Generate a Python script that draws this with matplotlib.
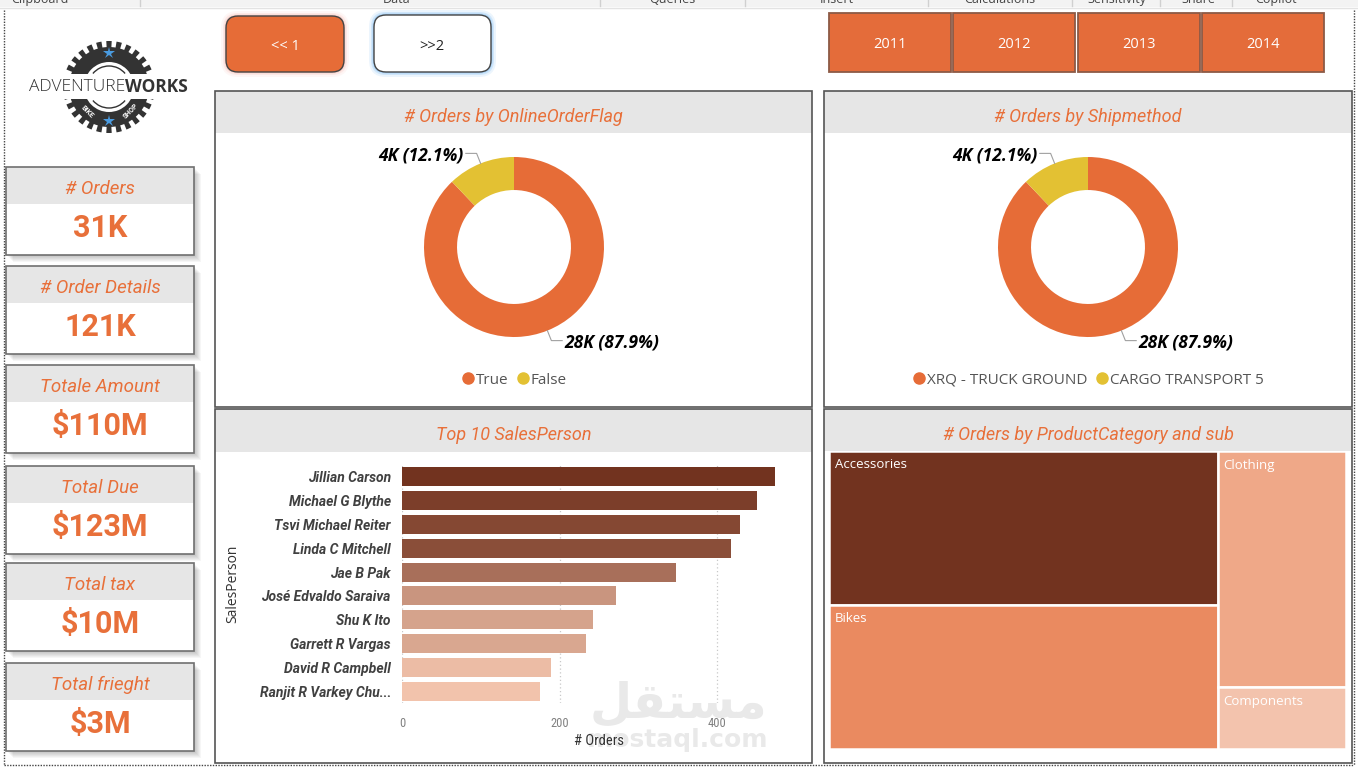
import numpy as np
import matplotlib
matplotlib.use('Agg')
import matplotlib.pyplot as plt
from matplotlib import font_manager as fm
from matplotlib.patches import Rectangle, FancyBboxPatch, Wedge, Arc
from matplotlib.lines import Line2D
from matplotlib.colors import LinearSegmentedColormap, Normalize

# ---------------- data ----------------
kpi_titles = ['# Orders', '# Order Details', 'Totale Amount', 'Total Due', 'Total tax', 'Total frieght']
kpi_values = ['31K', '121K', '$110M', '$123M', '$10M', '$3M']
nav_buttons = ['<< 1', '>>2']
years = ['2011', '2012', '2013', '2014']
online_flags = ['True', 'False']
online_orders = [27659, 3806]
ship_methods = ['XRQ - TRUCK GROUND', 'CARGO TRANSPORT 5']
ship_orders = [27659, 3806]
salespersons = ['Jillian Carson', 'Michael G Blythe', 'Tsvi Michael Reiter', 'Linda C Mitchell',
                'Jae B Pak', 'José Edvaldo Saraiva', 'Shu K Ito', 'Garrett R Vargas',
                'David R Campbell', 'Ranjit R Varkey Chudukatil']
sp_orders = [473, 450, 429, 418, 348, 271, 242, 234, 189, 175]
sp_ticks = [0, 200, 400]
categories = ['Accessories', 'Bikes', 'Clothing', 'Components']
cat_orders = [46700, 43700, 23700, 6200]
cat_groups = [[0, 1], [2, 3]]
ribbon_labels = ['Clipboard', 'Data', 'Queries', 'Insert', 'Calculations', 'Sensitivity', 'Share', 'Copilot']

# ---------------- fonts ----------------
avail = {f.name for f in fm.fontManager.ttflist}
def pick(*names):
    for n in names:
        if n in avail:
            return n
    return 'DejaVu Sans'
DIN = pick('Roboto', 'Lato', 'DejaVu Sans')
DINC = pick('Roboto Condensed', 'Roboto', 'DejaVu Sans')
UI = pick('Open Sans', 'Noto Sans', 'DejaVu Sans')
plt.rcParams['font.family'] = [UI, 'DejaVu Sans']

# ---------------- colours ----------------
ORANGE = '#E66C37'
TXT_OR = '#E8703A'
YELLOW = '#E3C133'
HEADER = '#E6E6E6'
BORDER = '#555555'

W, H = 1358, 769
fig = plt.figure(figsize=(W / 100, H / 100), dpi=100)
fig.patch.set_facecolor('white')

bg = fig.add_axes([0, 0, 1, 1], zorder=0)
bg.set_xlim(0, W)
bg.set_ylim(H, 0)
bg.axis('off')

def px_axes(x0, y0, x1, y1, z=2):
    ax = fig.add_axes([x0 / W, 1 - y1 / H, (x1 - x0) / W, (y1 - y0) / H], zorder=z)
    ax.patch.set_alpha(0)
    return ax

# ---------------- ribbon remnants ----------------
bg.add_patch(Rectangle((0, 0), W, 7, facecolor='#F3F3F3', edgecolor='none'))
bg.plot([0, W], [7.5, 7.5], color='#E3E3E3', lw=1)
rib_x = [40, 397, 672, 837, 1000, 1117, 1198, 1276]
for lab, x in zip(ribbon_labels, rib_x):
    bg.text(x, 3, lab, ha='center', va='baseline', fontsize=9, color='#444444')
for x in [140, 600, 745, 928, 1072, 1160, 1232]:
    bg.plot([x, x], [0, 6], color='#D0D0D0', lw=1)

# ---------------- page dotted border ----------------
dot = dict(color='#444444', lw=1.0, linestyle=(0, (1, 1)))
bg.plot([4, 4], [10, 765], **dot)
bg.plot([4, 1354], [765, 765], **dot)
bg.plot([1354, 1354], [10, 765], **dot)

# ---------------- logo ----------------
cx, cy = 109, 87
def gear_half(ymin, ymax):
    clip = Rectangle((cx - 60, ymin), 120, ymax - ymin, transform=bg.transData)
    parts = [Wedge((cx, cy), 40, 0, 360, width=15, facecolor='#333333', edgecolor='none')]
    n = 28
    for k in range(n):
        a = 360 / n * k
        parts.append(Wedge((cx, cy), 46, a - 3.4, a + 3.4, width=8, facecolor='#333333', edgecolor='none'))
    for p in parts:
        bg.add_patch(p)
        p.set_clip_path(clip)
gear_half(cy - 60, cy - 13)
gear_half(cy + 12, cy + 60)
bg.add_patch(Arc((cx, cy), 42, 42, theta1=220, theta2=320, color='#333333', lw=1))
bg.add_patch(Arc((cx, cy), 42, 42, theta1=40, theta2=140, color='#333333', lw=1))
bg.plot([cx], [cy - 34], marker='*', markersize=9, color='#4A9BE0', markeredgewidth=0)
bg.plot([cx], [cy + 34], marker='*', markersize=9, color='#4A9BE0', markeredgewidth=0)
for txt, ang, rot in [('BIKE', 132, -45), ('SHOP', 48, 45)]:
    a = np.deg2rad(ang)
    bg.text(cx + 33 * np.cos(a), cy + 33 * np.sin(a), txt, ha='center', va='center', fontsize=5,
            fontweight='bold', color='white', rotation=rot, family=DIN)
bg.text(125, 87, 'ADVENTURE', ha='right', va='center', fontsize=12.5, color='#333333',
        family=UI, fontweight='light')
bg.text(125, 87, 'WORKS', ha='left', va='center', fontsize=12.5, color='#333333',
        family=UI, fontweight='bold')

# ---------------- KPI cards ----------------
card_y = [167, 266, 365, 466, 563, 663]
for t, v, y0 in zip(kpi_titles, kpi_values, card_y):
    for k in range(1, 8):
        bg.add_patch(Rectangle((6 + k, y0 + k), 188, 88, facecolor='black', alpha=0.035, edgecolor='none'))
    bg.add_patch(Rectangle((6, y0), 188, 88, facecolor='white', edgecolor='none'))
    bg.add_patch(Rectangle((6, y0), 188, 37, facecolor=HEADER, edgecolor='none'))
    bg.add_patch(Rectangle((6, y0), 188, 88, facecolor='none', edgecolor='#707070', lw=1.2))
    bg.text(100, y0 + 22, t, ha='center', va='center', fontsize=13.5, style='italic', color=TXT_OR, family=DIN)
    bg.text(100, y0 + 61, v, ha='center', va='center', fontsize=22, fontweight='bold', color=TXT_OR, family=DIN)

# ---------------- nav buttons ----------------
for pad, al in [(5, 0.06), (3, 0.10), (1.5, 0.15)]:
    bg.add_patch(FancyBboxPatch((226 - pad, 16 - pad), 118 + 2 * pad, 56 + 2 * pad,
                                boxstyle='round,pad=0,rounding_size=%g' % (12 + pad),
                                facecolor='#F07060', alpha=al, edgecolor='none'))
    bg.add_patch(FancyBboxPatch((374 - pad, 15 - pad), 117 + 2 * pad, 57 + 2 * pad,
                                boxstyle='round,pad=0,rounding_size=%g' % (12 + pad),
                                facecolor='#3D9BF0', alpha=al * 1.6, edgecolor='none'))
bg.add_patch(FancyBboxPatch((226, 16), 118, 56, boxstyle='round,pad=0,rounding_size=12',
                            facecolor=ORANGE, edgecolor='#444444', lw=1))
bg.add_patch(FancyBboxPatch((374, 15), 117, 57, boxstyle='round,pad=0,rounding_size=12',
                            facecolor='white', edgecolor='#444444', lw=1))
bg.text(285, 46, nav_buttons[0], ha='center', va='center', fontsize=10.5, color='white')
bg.text(432, 46, nav_buttons[1], ha='center', va='center', fontsize=10.5, color='#222222')

# ---------------- year slicer ----------------
for yr, x0 in zip(years, [829, 953, 1078, 1202]):
    bg.add_patch(Rectangle((x0, 13), 122, 59, facecolor='#E46C3A', edgecolor='#8C5A46', lw=1.3))
    bg.text(x0 + 61, 44, yr, ha='center', va='center', fontsize=10.5, color='white')

# ---------------- panels ----------------
panels = [(215, 91, 812, 407, 133, '# Orders by OnlineOrderFlag'),
          (824, 91, 1352, 407, 133, '# Orders by Shipmethod'),
          (215, 409, 812, 763, 452, 'Top 10 SalesPerson'),
          (824, 409, 1352, 763, 451, '# Orders by ProductCategory and sub')]
for x0, y0, x1, y1, hb, title in panels:
    bg.add_patch(Rectangle((x0, y0), x1 - x0, y1 - y0, facecolor='white', edgecolor='none'))
    bg.add_patch(Rectangle((x0, y0), x1 - x0, hb - y0, facecolor=HEADER, edgecolor='none'))
    bg.add_patch(Rectangle((x0, y0), x1 - x0, y1 - y0, facecolor='none', edgecolor=BORDER, lw=1.2))
    bg.text((x0 + x1) / 2, (y0 + hb) / 2 + 5, title, ha='center', va='center', fontsize=13,
            style='italic', color=TXT_OR, family=DIN)

# ---------------- watermark ----------------
bg.text(678, 703, '\uFEDE\uFED8\uFE98\uFEB4\uFEE3', ha='center', va='center', fontsize=35,
        fontweight='bold', color='#E9E9E9', family='DejaVu Sans')
bg.text(678, 740, 'mostaql.com', ha='center', va='center', fontsize=18, fontweight='bold',
        color='#E9E9E9', family='DejaVu Sans')

# ---------------- donuts ----------------
def donut(cxp, cyp, labels, values):
    ax = px_axes(cxp - 100, cyp - 100, cxp + 100, cyp + 100)
    cols = [ORANGE, YELLOW]
    wedges, _ = ax.pie(values, colors=cols, startangle=90, counterclock=False, radius=1,
                       wedgeprops=dict(width=0.367, linewidth=0))
    L = 100 / 90
    ax.set_xlim(-L, L)
    ax.set_ylim(-L, L)
    ax.set_aspect('equal')
    ax.axis('off')
    total = sum(values)
    for w, v in zip(wedges, values):
        mid = np.deg2rad((w.theta1 + w.theta2) / 2)
        c, s = np.cos(mid), np.sin(mid)
        d = 1 if c > 0 else -1
        p1 = (c * 1.0, s * 1.0)
        p2 = (c * 1.12, s * 1.12)
        p3 = (p2[0] + d * 0.12, p2[1])
        ax.plot([p1[0], p2[0], p3[0]], [p1[1], p2[1], p3[1]], color='#A0A0A0', lw=0.8, clip_on=False)
        ax.text(p3[0] + d * 0.03, p3[1] - 0.02, '%dK (%.1f%%)' % (round(v / 1000), v / total * 100),
                ha='left' if d > 0 else 'right', va='center', fontsize=12.5, fontweight='bold',
                style='italic', color='black', clip_on=False)
    handles = [Line2D([], [], marker='o', linestyle='', color=c_, markersize=8) for c_ in cols]
    ax.legend(handles, labels, loc='center', bbox_to_anchor=(0.5, -0.165), ncol=2, frameon=False,
              handletextpad=0.05, columnspacing=0.5, handlelength=0.9, fontsize=11,
              labelcolor='#555555')

donut(514, 247, online_flags, online_orders)
donut(1088, 247, ship_methods, ship_orders)

# ---------------- bar chart ----------------
axb = px_axes(402, 465, 796, 703)
cmap = LinearSegmentedColormap.from_list('sp', ['#F2C3AC', '#72331F'])
norm = Normalize(min(sp_orders), max(sp_orders))
ypos = np.arange(len(salespersons))
axb.barh(ypos, sp_orders, height=0.8, color=[cmap(norm(v)) for v in sp_orders], zorder=3)
axb.set_xlim(0, 500)
axb.set_ylim(len(salespersons) - 0.5, -0.5)
axb.set_yticks(ypos)
axb.set_yticklabels([n if len(n) <= 20 else n[:19] + '...' for n in salespersons],
                    fontsize=10, fontweight='bold', style='italic', color='#404040', family=DIN)
axb.set_xticks(sp_ticks)
axb.set_xticklabels([str(t) for t in sp_ticks], fontsize=9, color='#808080', family=DINC)
axb.tick_params(axis='both', length=0)
axb.tick_params(axis='y', pad=8)
axb.tick_params(axis='x', pad=10)
for s in axb.spines.values():
    s.set_visible(False)
axb.grid(axis='x', linestyle=(0, (1, 2)), color='#C8C8C8', lw=0.9, zorder=0)
axb.set_axisbelow(True)
axb.set_xlabel('# Orders', fontsize=10.5, color='#333333', family=DINC)
axb.xaxis.set_label_coords(0.5, -0.13)
axb.set_ylabel('SalesPerson', fontsize=10, color='#333333', family=UI)
axb.yaxis.set_label_coords(-0.41, 0.5)

# ---------------- treemap ----------------
axt = px_axes(829, 451, 1346, 749)
axt.set_xlim(0, 1)
axt.set_ylim(1, 0)
axt.axis('off')
cat_colors = ['#72331F', '#EA8A60', '#EFA888', '#F3C3AD']
total = float(sum(cat_orders))
xx = 0.0
for grp in cat_groups:
    gsum = sum(cat_orders[i] for i in grp)
    gw = gsum / total
    yy = 0.0
    for i in grp:
        hh = cat_orders[i] / gsum
        axt.add_patch(Rectangle((xx, yy), gw, hh, facecolor=cat_colors[i], edgecolor='white', lw=1.8))
        axt.text(xx + 6 / 517, yy + 14 / 298, categories[i], ha='left', va='center', fontsize=9.5,
                 color='white')
        yy += hh
    xx += gw

fig.savefig('out.png', dpi=100)
